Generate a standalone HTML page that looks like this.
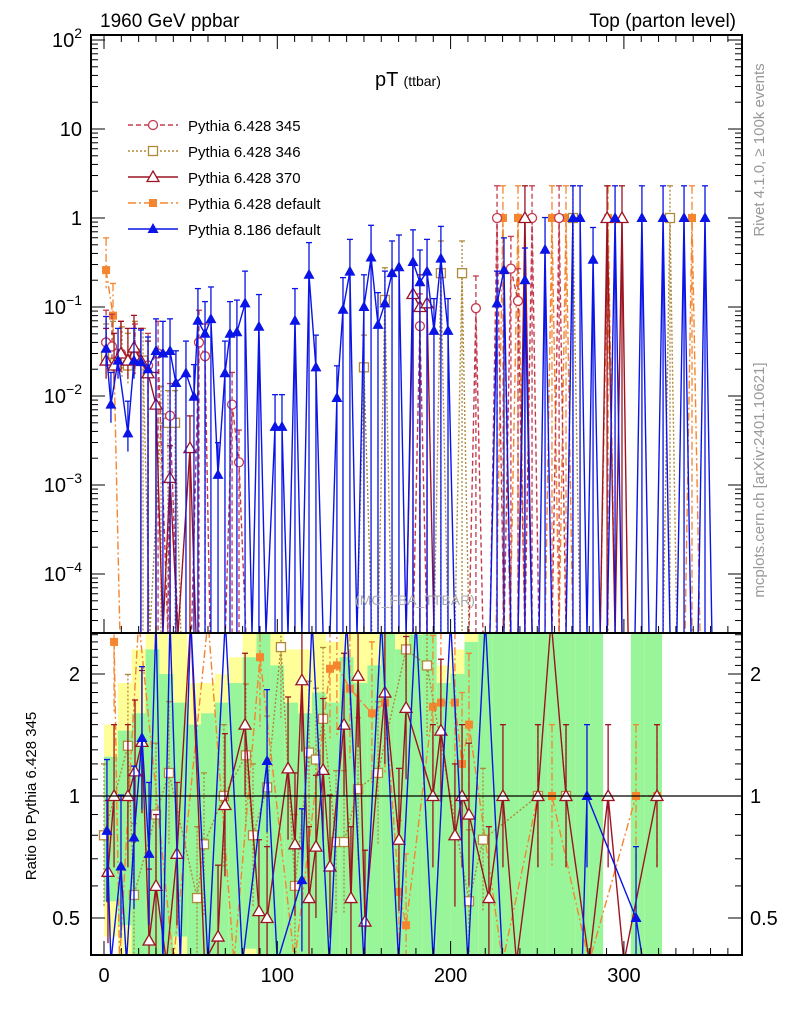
<!DOCTYPE html>
<html><head><meta charset="utf-8"><style>
html,body{margin:0;padding:0;background:#fff;}
svg{display:block;font-family:"Liberation Sans",sans-serif;}
</style></head><body>
<svg id="chart" width="786" height="1024" viewBox="0 0 786 1024" xmlns="http://www.w3.org/2000/svg">
<defs>
<clipPath id="cm"><rect x="91" y="35" width="651" height="598"/></clipPath>
<clipPath id="cr"><rect x="91" y="633" width="651" height="322"/></clipPath>
</defs>
<rect width="786" height="1024" fill="#fff"/>
<g id="bands" clip-path="url(#cr)"></g>
<g id="ratio" clip-path="url(#cr)"></g>
<g id="main" clip-path="url(#cm)"></g>
<g id="axes"></g>
<text x="100" y="27" font-size="19">1960 GeV ppbar</text>
<text x="736" y="27" font-size="19" text-anchor="end">Top (parton level)</text>
<text x="375" y="86" font-size="20">pT <tspan font-size="14">(ttbar)</tspan></text>
<text x="415" y="605" font-size="14" fill="#aaa" text-anchor="middle">(MC_FBA_TTBAR)</text>
<text transform="translate(764,150) rotate(-90)" font-size="15" fill="#999" text-anchor="middle">Rivet 4.1.0, ≥ 100k events</text>
<text transform="translate(764,480) rotate(-90)" font-size="15" fill="#999" text-anchor="middle">mcplots.cern.ch [arXiv:2401.10621]</text>
<text transform="translate(36,796) rotate(-90)" font-size="15" text-anchor="middle">Ratio to Pythia 6.428 345</text>
<g id="legend"></g>
</svg>
<script>
// ---- data ----
const blueX=[1.2,4,8.1,13.8,17.3,21.3,25.4,30,34,38.1,41.5,47.3,51.9,54.2,58.3,61.7,65.8,69.8,72.7,76.7,81.4,85.4,89.4,93.5,98.7,102.7,106.2,110.2,114.2,118.3,122.3,126.4,130.4,134.4,137.9,141.9,146,150,154.1,158.1,162.1,166.2,170.2,174.3,178.3,182.3,186.4,190.4,194.4,198.5,202.5,206.6,210.6,214.6,218.7,222.7,226.8,230.8,234.8,238.9,242.9,247,251,254.5,258.5,262.6,266.6,270.6,274.7,278.7,282.2,286.3,290.3,294.9,298.9,302.4,306.4,310.4,314.5,318.5,322.6,326.6,330.6,334.7,338.7,342.8,346.8,350.8];
const blueV=[.034,.008,.025,.0038,.025,.024,.02,.032,.03,.032,.014,.018,.0098,.07,.05,.073,.0013,.018,.05,.052,.11,0,.06,0,.0045,.0045,0,.07,0,.23,.021,0,0,.0095,.093,.25,0,.1,.36,.063,.11,.24,.28,0,.32,.19,.25,.054,.35,.054,0,0,0,0,0,0,.11,.26,0,0,.2,0,0,.44,0,0,0,1,1,0,.34,0,0,1,0,0,0,1,0,0,1,0,0,1,0,0,1,0];
const r345X=[1.2,4.6,9.8,17.9,25.4,31.2,36.9,38.1,42.7,50.5,54.8,58.3,61.2,70,73.9,77.9,81.9,90,110,130,150,170,178.3,182.3,186.4,210.6,214.6,218.7,222.7,226.8,230.8,234.8,238.9,242.9,247,251,258.5,262.6,266.6,290,320];
const r345V=[.04,.036,.03,.028,.022,.03,0,.006,0,0,.04,.028,0,0,.008,.0018,0,0,0,0,0,0,0,.061,0,0,.097,0,0,1,0,.27,.117,0,1,0,0,1,0,0,0];
const b346X=[1.2,5.2,10.4,13.8,17.9,22.5,26.5,32.9,36.9,41,44.4,60,90,120,146,150,154.6,158.1,162.1,166,190.4,194.4,198.5,202.5,206.6,210.6,266.6,270.6,274.7,322.6,326.6,330.6];
const b346V=[.028,.03,.026,.022,.03,.025,0,.0056,.005,.005,0,0,0,0,0,.021,0,0,.12,0,0,.24,0,0,.24,0,0,1,0,0,1,0];
const d370X=[1.2,5.8,9.8,13.8,17.3,21.3,25.4,30,34,38.1,42.7,49.6,53.1,90,174.3,178.3,182.3,186.4,190.4,238.9,242.9,247,286.3,290.3,294.9,298.9,302.4];
const d370V=[.025,.022,.03,.025,.035,.025,.018,.008,0,.0012,0,.0026,0,0,0,.14,.1,.11,0,0,1,0,0,1,0,1,0];
const oDefX=[1.2,5.2,9.2,50,100,150,200,226.2,230.2,234.3,238.9,242.9,254.5,258.5,262.6,266.6,270.6,286.3,290.9,294.9,335.3,339.3,343.9];
const oDefV=[.26,.08,0,0,0,0,0,0,1,0,1,0,0,1,0,1,0,0,1,0,0,1,0];
// ratio data (to Pythia 6.428 345); 0 = below range, 9 = above range
const rtD370X=[2.3,5.8,13.8,17.9,21.9,26,30,36,42.1,50,58,65.8,69.8,81.4,89.4,94.1,106.2,110.2,114.2,118.3,122.3,126.4,130.4,138.5,142.5,146.6,150.6,162.1,170.2,174.3,189.8,194.4,202.5,206.6,210.6,222.1,230.2,238,250.4,258,266.6,280,290.9,300,319.1];
const rtD370V=[.65,1,1,1.15,1.36,.44,.6,0,.72,9,0,.45,.95,1.5,.52,.5,1.17,.76,1.93,.56,.75,1.16,.67,1.5,.56,1.98,.49,1.8,.78,1.65,1,1.45,.8,1,.9,.56,1,0,1,9,1,0,1,0,1];
const rtBlueX=[1.7,4,9.8,13,17.3,21.9,26,30,34,38.1,44,50,60,70,80,94.1,100,114.2,120,130,140,150,160,170,180,190,200,210,220,230,276,278.7,307,311];
const rtBlueV=[.82,0,.67,0,.79,1.39,.72,9,0,9,0,9,0,9,0,1.22,0,.62,9,0,9,0,9,0,9,0,9,0,9,0,0,1,.5,0];
const rtOrgX=[5.8,9,20,40,60,75,90,110,130.4,134.4,141.9,154.6,162.1,170.2,174.3,189.8,194.4,202.5,206.6,210.6,230,250.4,258.5,280,307,319.1];
const rtOrgV=[2.4,0,9,0,9,0,2.2,0,2.06,2.1,1.84,1.6,1.7,.58,.48,1.66,1.7,1.7,1.2,1.5,0,1,1,0,1,1];
const rtBrnX=[0,13.8,17.3,30,37.5,53.7,57.7,69.2,81.9,86,94.1,102.1,110.2,118.3,122.3,126.4,133.9,138.5,146.6,158.1,174.3,186.4,210.6,218.7,250.4,266.6];
const rtBrnV=[.8,1.33,.57,.9,1.14,.56,.76,1,1.26,.8,1.05,2.33,.6,1.28,1.23,1.55,.77,.77,1.04,1.14,2.3,2.1,.55,.78,1,1];
const bandEdges=[0,8,16,24,32,40,48,56,64,72,80,88,96,104,112,120,128,136,144,152,160,168,176,184,192,200,208,216,224,232,240,248,256,264,272,280,288,296,304,312,322];
const yellowHi=[1.5,1.9,2.3,2.6,2.6,2.6,1.9,1.9,2,2.2,2.6,2.6,2.6,2.3,2.3,2.6,2.4,2.6,2.6,2.6,2.6,2.6,2.6,2.6,2.1,2.3,2.6,2.6,2.6,2.6,2.6,2.6,2.6,2.6,2.6,2.6,0,0,2.6,2.6];
const greenHi=[1.25,1.45,1.6,2.3,2,1.7,1.5,1.6,1.7,1.9,2.2,2.6,2.1,1.7,1.6,1.8,1.7,2.2,1.9,2.1,2.6,2.3,2.5,2.6,1.9,2,2.4,2.6,2.6,2.6,2.6,2.6,2.6,2.6,2.6,2.6,0,0,2.6,2.6];
const greenLo=[.55,.48,.4,.4,.4,.45,.4,.4,.4,.4,.42,.4,.4,.4,.4,.4,.4,.4,.4,.4,.4,.4,.4,.4,.4,.4,.4,.4,.4,.4,.4,.4,.4,.4,.4,.4,0,0,.4,.4];
const yellowLo=[.45,.4,.4,.4,.4,.4,.4,.4,.4,.4,.4,.4,.4,.4,.4,.4,.4,.4,.4,.4,.4,.4,.4,.4,.4,.4,.4,.4,.4,.4,.4,.4,.4,.4,.4,.4,0,0,.4,.4];
const xTicks=[0,100,200,300];
// ---- scales ----
const X0=104,XS=1.733,FLOOR=632;
function xs(p){return X0+XS*p;}
function ys(v){if(!(v>0))return FLOOR+2;return Math.min(FLOOR+2,218-89*Math.log10(v));}
function yr(r){if(!(r>0))return 962;if(r>=9)return 620;return 796-122*Math.log2(r);}
const NS="http://www.w3.org/2000/svg";
function mk(tag,attrs,parent){const e=document.createElementNS(NS,tag);for(const k in attrs)e.setAttribute(k,attrs[k]);parent.appendChild(e);return e;}
function marker(g,type,x,y,col){
  let e;
  if(type==='circle')e=mk('circle',{cx:x,cy:y,r:4.5,fill:'#fff',stroke:col,'stroke-width':1.3},g);
  else if(type==='osq')e=mk('rect',{x:x-4.5,y:y-4.5,width:9,height:9,fill:'#fff',stroke:col,'stroke-width':1.3},g);
  else if(type==='otri')e=mk('path',{d:`M${x},${y-6}L${x+6},${y+4.5}L${x-6},${y+4.5}Z`,fill:'#fff',stroke:col,'stroke-width':1.3},g);
  else if(type==='fsq')e=mk('rect',{x:x-4,y:y-4,width:8,height:8,fill:col},g);
  else e=mk('path',{d:`M${x},${y-6}L${x+5.5},${y+4}L${x-5.5},${y+4}Z`,fill:col},g);
  
  
}
const series=[
 {name:'pythia-6428-default',X:oDefX,V:oDefV,RX:rtOrgX,RV:rtOrgV,col:'#f5852f',dash:'8,3,2,3',m:'fsq'},
 {name:'pythia-6428-346',X:b346X,V:b346V,RX:rtBrnX,RV:rtBrnV,col:'#b08a3a',dash:'2,2',m:'osq'},
 {name:'pythia-6428-345',X:r345X,V:r345V,RX:[],RV:[],col:'#c43a4e',dash:'5,3',m:'circle'},
 {name:'pythia-6428-370',X:d370X,V:d370V,RX:rtD370X,RV:rtD370V,col:'#9c1423',dash:'',m:'otri'},
 {name:'pythia-8186-default',X:blueX,V:blueV,RX:rtBlueX,RV:rtBlueV,col:'#0a14e6',dash:'',m:'ftri'}
];
// bands
const bg=document.getElementById('bands');
for(let i=0;i<bandEdges.length-1;i++){
  const x1=xs(bandEdges[i]),x2=xs(bandEdges[i+1]);
  if(yellowHi[i]>0){const r=mk('rect',{x:x1,y:yr(yellowHi[i]),width:x2-x1,height:yr(yellowLo[i])-yr(yellowHi[i]),fill:'#ffff99'},bg);
    
    }
  if(greenHi[i]>0){const r=mk('rect',{x:x1,y:yr(greenHi[i]),width:x2-x1,height:yr(greenLo[i])-yr(greenHi[i]),fill:'#99f599'},bg);
    
    }
}
const mg=document.getElementById('main'),rg=document.getElementById('ratio');
series.forEach(s=>{
  const g=mk('g',{},mg);
  
  
  const pts=s.X.map((p,i)=>xs(p).toFixed(1)+','+ys(s.V[i]).toFixed(1)).join(' ');
  mk('polyline',{points:pts,fill:'none',stroke:s.col,'stroke-width':1.4,'stroke-dasharray':s.dash},g);
  s.X.forEach((p,i)=>{const v=s.V[i];if(!(v>0))return;const x=xs(p),y=ys(v);
    const lo=p>20?FLOOR+2:ys(v/1.6);
    mk('line',{x1:x,x2:x,y1:ys(v*2.3),y2:lo,stroke:s.col,'stroke-width':1.3,'stroke-dasharray':s.dash},g);
    mk('line',{x1:x-3,x2:x+3,y1:ys(v*2.3),y2:ys(v*2.3),stroke:s.col,'stroke-width':1.3},g);
    marker(g,s.m,x,y,s.col);});
  if(s.RX.length){
    const h=mk('g',{},rg);
    
    
    const rp=s.RX.map((p,i)=>xs(p).toFixed(1)+','+yr(s.RV[i]).toFixed(1)).join(' ');
    mk('polyline',{points:rp,fill:'none',stroke:s.col,'stroke-width':1.4,'stroke-dasharray':s.dash},h);
    s.RX.forEach((p,i)=>{const r=s.RV[i];if(!(r>0)||r>=9)return;const x=xs(p),y=yr(r);
      mk('line',{x1:x,x2:x,y1:yr(r*1.5),y2:yr(r/1.5),stroke:s.col,'stroke-width':1.3,'stroke-dasharray':s.dash},h);
      mk('line',{x1:x-3,x2:x+3,y1:yr(r*1.5),y2:yr(r*1.5),stroke:s.col,'stroke-width':1.3},h);
      marker(h,s.m,x,y,s.col);});
  }
});
// unity line
const ul=mk('line',{x1:91,x2:742,y1:yr(1),y2:yr(1),stroke:'#000','stroke-width':1.2},rg);


// axes
const ag=document.getElementById('axes');
mk('rect',{x:91,y:35,width:651,height:920,fill:'none',stroke:'#000','stroke-width':2},ag);
mk('line',{x1:91,x2:742,y1:633,y2:633,stroke:'#000','stroke-width':2},ag);
const sup={'2':'2','-1':'−1','-2':'−2','-3':'−3','-4':'−4'};
for(let d=-5;d<=2;d++){
  for(let m=1;m<10;m++){const v=m*Math.pow(10,d);const y=218-89*Math.log10(v);if(y<35||y>633)continue;
    const L=m===1?14:7;
    mk('line',{x1:91,x2:91+L,y1:y,y2:y,stroke:'#000','stroke-width':1},ag);
    mk('line',{x1:742-L,x2:742,y1:y,y2:y,stroke:'#000','stroke-width':1},ag);}
  const y=218-89*d; if(y<35||y>633)continue;
  let t;
  if(d===0)t=mk('text',{x:82,y:y+7,'font-size':20,'text-anchor':'end'},ag),t.textContent='1';
  else if(d===1)t=mk('text',{x:82,y:y+7,'font-size':20,'text-anchor':'end'},ag),t.textContent='10';
  else{t=mk('text',{x:82,y:y+7,'font-size':20,'text-anchor':'end'},ag);
    t.appendChild(document.createTextNode('10'));
    const ts=document.createElementNS(NS,'tspan');ts.setAttribute('dy','-9');ts.setAttribute('font-size','14');ts.textContent=sup[String(d)];t.appendChild(ts);}
  
  
}
// ratio ticks
for(let r=0.4;r<=2.55;r+=0.1){const y=yr(r);if(y<634||y>955)continue;const maj=Math.abs(r-1)<1e-6||Math.abs(r-2)<1e-6||Math.abs(r-0.5)<1e-6;
  const L=maj?14:7;
  mk('line',{x1:91,x2:91+L,y1:y,y2:y,stroke:'#000','stroke-width':1},ag);
  mk('line',{x1:742-L,x2:742,y1:y,y2:y,stroke:'#000','stroke-width':1},ag);}
[['2',2],['1',1],['0.5',0.5]].forEach(([s,r])=>{
  const a=mk('text',{x:80,y:yr(r)+7,'font-size':20,'text-anchor':'end'},ag);a.textContent=s;
  
  
  const b=mk('text',{x:750,y:yr(r)+7,'font-size':20},ag);b.textContent=s;
  
  });
// x ticks
for(let p=0;p<=370;p+=10){const x=xs(p);if(x>742)break;const L=p%100===0?14:7;
  mk('line',{x1:x,x2:x,y1:955-L,y2:955,stroke:'#000','stroke-width':1},ag);
  mk('line',{x1:x,x2:x,y1:633-L,y2:633,stroke:'#000','stroke-width':1},ag);
  mk('line',{x1:x,x2:x,y1:35,y2:35+L,stroke:'#000','stroke-width':1},ag);}
xTicks.forEach(p=>{const t=mk('text',{x:xs(p),y:982,'font-size':20,'text-anchor':'middle'},ag);t.textContent=String(p);
  
  });
// legend
const lg=document.getElementById('legend');
const labels=['Pythia 6.428 345','Pythia 6.428 346','Pythia 6.428 370','Pythia 6.428 default','Pythia 8.186 default'];
const order=[2,1,3,0,4];
order.forEach((si,i)=>{const s=series[si];const y=125+26*i;
  const g=mk('g',{},lg);
  
  
  mk('line',{x1:128,x2:178,y1:y,y2:y,stroke:s.col,'stroke-width':1.4,'stroke-dasharray':s.dash},g);
  marker(g,s.m,153,y,s.col);
  const t=mk('text',{x:188,y:y+6,'font-size':15},g);t.textContent=labels[i];});
</script>
</body></html>
